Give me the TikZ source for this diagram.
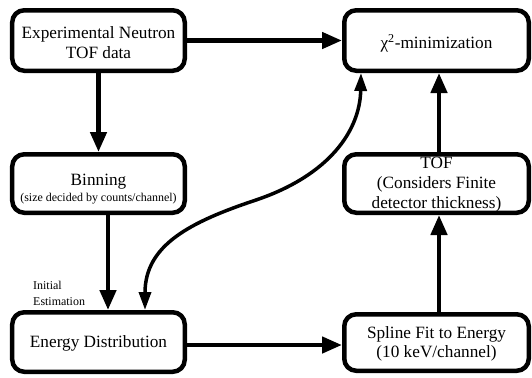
\documentclass[tikz,border=0pt]{standalone}
\usepackage{fontspec}
\setmainfont{Liberation Serif}
\usetikzlibrary{arrows.meta,calc}
\begin{document}
\begin{tikzpicture}[x=1bp,y=-1bp,
  box/.style={draw, line width=4.5bp, rounded corners=12bp, inner sep=0pt},
  txt/.style={align=center, inner sep=0pt, font=\fontsize{17.3}{20}\selectfont},
  arr/.style={line width=4.5bp, -{Triangle[length=20bp,width=16bp]}},
  curv/.style={line width=3.5bp, {Triangle[length=18bp,width=12bp]}-{Triangle[length=18bp,width=12bp]}},
  smalltxt/.style={font=\fontsize{12}{16}\selectfont}]
\useasboundingbox (0,0) rectangle (532,377);
\node[box, minimum width=172.5bp, minimum height=60.5bp] (exp) at (98.5,40.5) {};
\node[box, minimum width=172.5bp, minimum height=58.5bp] (bin) at (98.5,183.5) {};
\node[box, minimum width=172.5bp, minimum height=59.5bp] (ene) at (98.5,342) {};
\node[box, minimum width=184.5bp, minimum height=60.5bp] (chi) at (436.5,40.5) {};
\node[box, minimum width=184.5bp, minimum height=58.5bp] (tof) at (436.5,183.5) {};
\node[box, minimum width=184.5bp, minimum height=56.5bp] (spl) at (436.5,342.5) {};
\node[txt] (expt) at (98.5,43) {Experimental Neutron\\TOF data};
\node[txt] (bint) at (98.5,189) {Binning\\[-4bp]{\fontsize{12}{14}\selectfont(size decided by counts/channel)}};
\node[txt] (enet) at (98.5,343) {Energy Distribution};
\node[txt] (chit) at (436.5,43) {χ\textsuperscript{2}-minimization};
\node[txt] (toft) at (436.5,184.5) {TOF\\(Considers Finite\\detector thickness)};
\node[txt, font=\fontsize{17.3}{18.5}\selectfont] (splt) at (436.5,344) {Spline Fit to Energy\\(10 keV/channel)};
\node[smalltxt, align=left, anchor=north west, inner sep=0pt] (init) at (33,281) {Initial\\Estimation};
\draw[arr] (exp.east) -- (chi.west);
\draw[arr] (exp.south) -- (bin.north);
\draw[arr] ($(bin.south)+(9.5,0)$) -- ($(ene.north)+(9.5,0)$);
\draw[arr] ($(ene.east)+(0,3)$) -- ($(ene.east -| spl.west)+(0,3)$);
\draw[arr] ($(spl.north)+(2.5,0)$) -- ($(tof.south)+(2.5,0)$);
\draw[arr] ($(tof.north)+(2.5,0)$) -- ($(chi.south)+(2.5,0)$);
\draw[curv] ($(ene.north)+(46.5,0)$) .. controls (145,245) and (190,222) .. (256,200)
  .. controls (330,175) and (360,130) .. ($(chi.south)+(-75.5,0)$);
\end{tikzpicture}
\end{document}
